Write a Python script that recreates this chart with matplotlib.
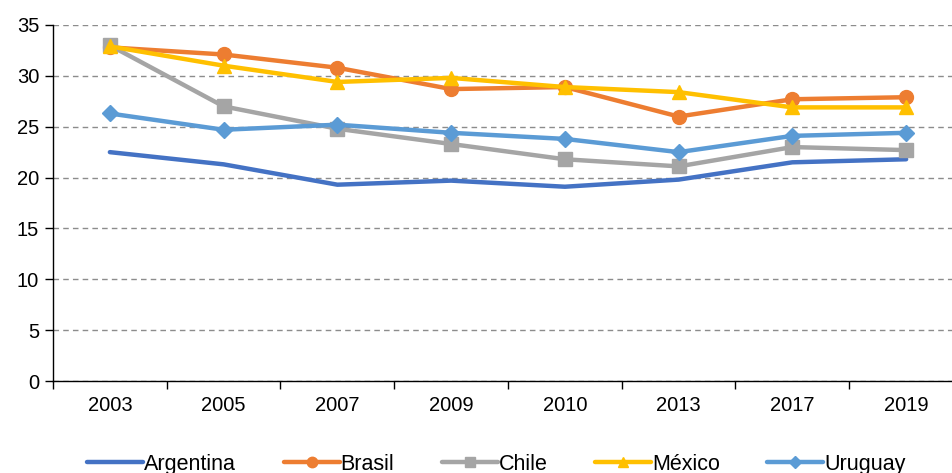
import matplotlib
matplotlib.use('Agg')
from matplotlib import pyplot as plt
import numpy as np

plt.rcParams['font.family'] = ['Liberation Sans', 'DejaVu Sans']

years = ['2003', '2005', '2007', '2009', '2010', '2013', '2017', '2019']
argentina = [22.5, 21.3, 19.3, 19.7, 19.1, 19.8, 21.5, 21.8]
brasil = [32.8, 32.1, 30.8, 28.7, 28.9, 26.0, 27.7, 27.9]
chile = [33.0, 27.0, 24.8, 23.3, 21.8, 21.1, 23.0, 22.7]
mexico = [32.9, 31.0, 29.4, 29.8, 28.9, 28.4, 26.9, 26.9]
uruguay = [26.3, 24.7, 25.2, 24.4, 23.8, 22.5, 24.1, 24.4]

series = [
    ('Argentina', argentina, '#4472C4', None),
    ('Brasil', brasil, '#ED7D31', 'o'),
    ('Chile', chile, '#A5A5A5', 's'),
    ('México', mexico, '#FFC000', '^'),
    ('Uruguay', uruguay, '#5B9BD5', 'D'),
]

fig = plt.figure(figsize=(9.53, 4.73), dpi=100)
ax = fig.add_axes([53/953, 92/473, 910/953, 356/473])

x = np.arange(len(years))
for name, vals, col, mk in series:
    ms = 8 if mk == 'D' else 10
    ax.plot(x, vals, color=col, lw=3.2, marker=mk, markersize=ms, label=name,
            solid_capstyle='round')

ax.set_ylim(0, 35)
ax.set_yticks(range(0, 36, 5))
ax.set_xlim(-0.5, len(years) - 0.5)
ax.set_xticks(np.arange(-0.5, len(years)))
ax.set_xticklabels([])
ax.set_xticks(x, minor=True)
ax.set_xticklabels(years, minor=True)
ax.tick_params(axis='x', which='minor', length=0, pad=11, labelsize=14.5)
ax.tick_params(axis='x', which='major', length=6, width=1)
ax.tick_params(axis='y', length=6, width=1, labelsize=14.5, pad=4)

ax.yaxis.grid(True, color='#8c8c8c', linestyle=(0, (4, 3)), linewidth=1)
ax.set_axisbelow(True)
for s in ['top', 'right']:
    ax.spines[s].set_visible(False)
for s in ['left', 'bottom']:
    ax.spines[s].set_linewidth(1)
    ax.spines[s].set_color('#000000')

fig.legend(loc='center', bbox_to_anchor=(0.521, 9/473), ncol=5, frameon=False,
           fontsize=15.5, handlelength=2.6, handletextpad=0.05,
           columnspacing=2.2, markerscale=0.75)

plt.savefig('out.png', dpi=100)
